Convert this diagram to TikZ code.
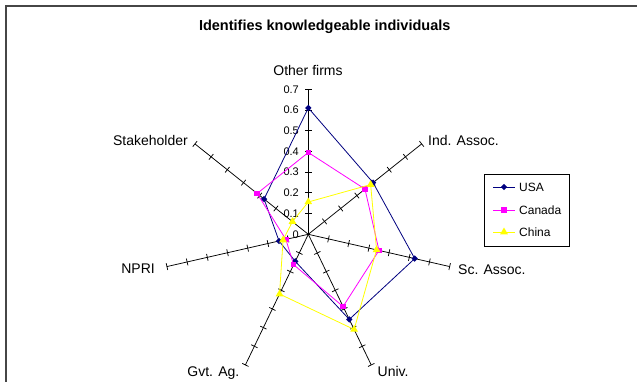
\documentclass[tikz,border=0pt]{standalone}
\usepackage{fontspec}
\setmainfont{Liberation Sans}
\usetikzlibrary{calc,shapes.geometric}
\definecolor{usacol}{RGB}{0,0,128}
\definecolor{cancol}{RGB}{255,0,255}
\definecolor{chncol}{RGB}{255,255,0}
\definecolor{framecol}{RGB}{70,70,70}
\begin{document}
\begin{tikzpicture}[x=1pt,y=1pt,
  axisline/.style={black,line width=0.75pt},
  tickmark/.style={black,line width=0.75pt},
  axlabel/.style={font=\fontsize{14}{16}\selectfont,inner sep=0pt},
  ticklabel/.style={font=\fontsize{11}{13}\selectfont,inner sep=0pt,anchor=east,text=black},
  legtext/.style={font=\fontsize{12}{14}\selectfont,inner sep=0pt,anchor=west},
  serline/.style={line width=0.8pt,line join=miter},
  usamark/.style={diamond,fill=usacol,inner sep=0pt,minimum size=6.5pt},
  canmark/.style={rectangle,fill=cancol,inner sep=0pt,minimum size=5.5pt},
  chnmark/.style={regular polygon,regular polygon sides=3,fill=chncol,inner sep=0pt,minimum size=9pt},
]
\useasboundingbox (0,0) rectangle (637,381);
\fill[white] (0,0) rectangle (637,381);

% chart frame (left and top edges)
\draw[framecol,line width=1.4pt] (6,-2) -- (6,375) -- (639,375);

% title
\node[font=\bfseries\fontsize{14.5}{17}\selectfont,inner sep=0pt,anchor=base] (title) at (324.7,350) {Identifies knowledgeable individuals};

% centre of the radar
\coordinate (c) at (308.3,146.7);
\def\unitlen{207.14}

% seven axes with ticks every 0.1
\foreach \k in {0,...,6}{
  \pgfmathsetmacro{\ang}{90-\k*51.428571}
  \coordinate (end\k) at ($(c)+(\ang:145)$);
  \draw[axisline] (c) -- (end\k);
  \begin{scope}[shift={(c)},rotate=\ang]
    \foreach \i in {1,...,7}{
      \draw[tickmark] (\i*20.714,-3.5) -- (\i*20.714,3.5);
    }
  \end{scope}
}

% scale labels on the vertical axis
\foreach \i/\t in {0/0,1/0.1,2/0.2,3/0.3,4/0.4,5/0.5,6/0.6,7/0.7}{
  \node[ticklabel] (tl\i) at ($(c)+(-9.3,\i*20.714)$) {\t};
}

% axis labels
\node[axlabel,anchor=base] (lab0) at (308,305) {Other firms};
\node[axlabel,anchor=base west] (lab1) at (428,236) {Ind. Assoc.};
\node[axlabel,anchor=base west] (lab2) at (458,107) {Sc. Assoc.};
\node[axlabel,anchor=base west] (lab3) at (377.5,5) {Univ.};
\node[axlabel,anchor=base east] (lab4) at (239.5,5) {Gvt. Ag.};
\node[axlabel,anchor=base east] (lab5) at (155,108) {NPRI};
\node[axlabel,anchor=base east] (lab6) at (188,236) {Stakeholder};

% data series
\newcommand\radarseries[4]{%
  \foreach \v [count=\k from 0] in {#2}{
    \coordinate (#1\k) at ($(c)+({90-\k*51.428571}:{\v*\unitlen})$);
  }
  \draw[serline,#3] (#10) -- (#11) -- (#12) -- (#13) -- (#14) -- (#15) -- (#16) -- cycle;
  \foreach \k in {0,...,6}{ \node[#4] (#1m\k) at (#1\k) {}; }
}
\radarseries{usa}{0.61,0.40,0.527,0.456,0.145,0.145,0.273}{usacol}{usamark}
\radarseries{can}{0.395,0.35,0.35,0.387,0.163,0.111,0.316}{cancol}{canmark}
\radarseries{chn}{0.156,0.385,0.338,0.51,0.32,0.125,0.098}{chncol}{chnmark}

% legend
\draw[black,line width=0.9pt] (484,135) rectangle (569,207);
\foreach \y/\nm/\col/\mk/\txt in {194/usa/usacol/usamark/USA,171/can/cancol/canmark/Canada,149/chn/chncol/chnmark/China}{
  \coordinate (lg\nm a) at (493,\y);
  \coordinate (lg\nm b) at (515,\y);
  \draw[serline,\col] (lg\nm a) -- (lg\nm b);
  \node[\mk] (lg\nm m) at (504,\y) {};
  \node[legtext] (lg\nm t) at (519,\y) {\txt};
}
\end{tikzpicture}
\end{document}
